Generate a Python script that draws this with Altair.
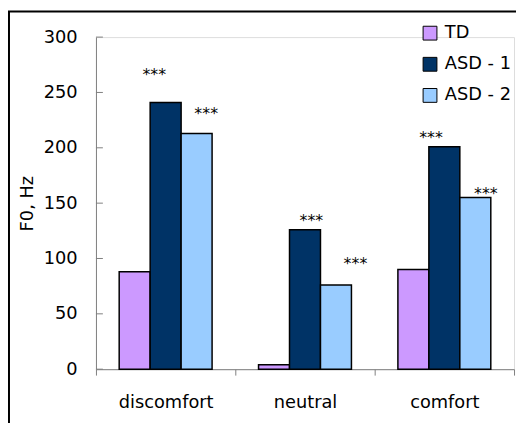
import altair as alt
import pandas as pd

categories = ["discomfort", "neutral", "comfort"]
groups = ["TD", "ASD - 1", "ASD - 2"]
colors = ["#CC99FF", "#003366", "#99CCFF"]
td = [88, 4, 90]
asd1 = [241, 126, 201]
asd2 = [213, 76, 155]

star_cats = ["discomfort", "discomfort", "neutral", "neutral", "comfort", "comfort"]
star_groups = ["ASD - 1", "ASD - 2", "ASD - 1", "ASD - 2", "ASD - 1", "ASD - 2"]
star_vals = [270, 235, 138, 99, 213, 163]
star_dx = [-11.5, 9.7, 6.5, 19.7, -13.5, 10.7]

y_ticks = [0, 50, 100, 150, 200, 250, 300]

FONT = "DejaVu Sans"

rows = []
for g, series in zip(groups, [td, asd1, asd2]):
    for c, v in zip(categories, series):
        rows.append({"cat": c, "grp": g, "val": v})
df = pd.DataFrame(rows)

x_enc = alt.X("cat:N", sort=categories, title=None,
              scale=alt.Scale(paddingInner=0, paddingOuter=0),
              axis=alt.Axis(labelAngle=0, labelFontSize=18, labelColor="black",
                            labelFont=FONT, domainColor="#808080", tickColor="#808080",
                            tickSize=6, tickBand="extent", labelBaseline="alphabetic",
                            labelPadding=33))
xo_enc = alt.XOffset("grp:N", sort=groups,
                     scale=alt.Scale(paddingOuter=0.75, paddingInner=0))
y_scale = alt.Scale(domain=[0, 300], nice=False, zero=True)

bars = alt.Chart(df).mark_bar(stroke="black", strokeWidth=1.5).encode(
    x=x_enc,
    xOffset=xo_enc,
    y=alt.Y("val:Q", scale=y_scale, title="F0, Hz",
            axis=alt.Axis(values=y_ticks, ticks=False, tickSize=0, grid=False,
                          labelFontSize=18, labelColor="black", labelFont=FONT,
                          labelPadding=19, domainColor="#808080",
                          titleFontSize=18, titleFont=FONT, titleFontWeight="normal",
                          titleColor="black", titleX=-64, titleY=168,
                          titleBaseline="alphabetic", titleAlign="center")),
    color=alt.Color("grp:N", sort=groups,
                    scale=alt.Scale(domain=groups, range=colors),
                    legend=alt.Legend(title=None, orient="none", legendX=329, legendY=-13,
                                      symbolType="square", symbolSize=196,
                                      symbolStrokeColor="black", symbolStrokeWidth=1,
                                      labelFontSize=18, labelFont=FONT, labelColor="black",
                                      rowPadding=13.5, labelOffset=6, padding=0)),
)

tick_df = pd.DataFrame({"t": y_ticks})
ticks = alt.Chart(tick_df).mark_rule(color="#808080", strokeWidth=1).encode(
    y=alt.Y("t:Q", scale=y_scale),
    x=alt.value(0), x2=alt.value(7),
)

star_df = pd.DataFrame({"cat": star_cats, "grp": star_groups, "val": star_vals})
star_layers = []
for i in range(len(star_cats)):
    star_layers.append(
        alt.Chart(star_df.iloc[[i]]).mark_text(
            text="***", fontSize=16, font=FONT, color="black", dx=star_dx[i], dy=10,
            baseline="alphabetic", align="center"
        ).encode(x=alt.X("cat:N", sort=categories), xOffset=alt.XOffset("grp:N", sort=groups),
                 y=alt.Y("val:Q", scale=y_scale))
    )

frame = alt.Chart(tick_df.iloc[[0]]).mark_rect(
    filled=False, stroke="black", strokeWidth=2
).encode(
    x=alt.value(-88), x2=alt.value(460), y=alt.value(-26), y2=alt.value(420)
)

chart = alt.layer(bars, ticks, *star_layers, frame).properties(
    width=423, height=336,
    autosize=alt.AutoSizeParams(type="none"),
    padding={"left": 89, "top": 27, "right": 2, "bottom": 52},
).configure_view(stroke=None).configure(font=FONT)

chart.save("out.html", embed_options={"renderer": "svg", "actions": False})
